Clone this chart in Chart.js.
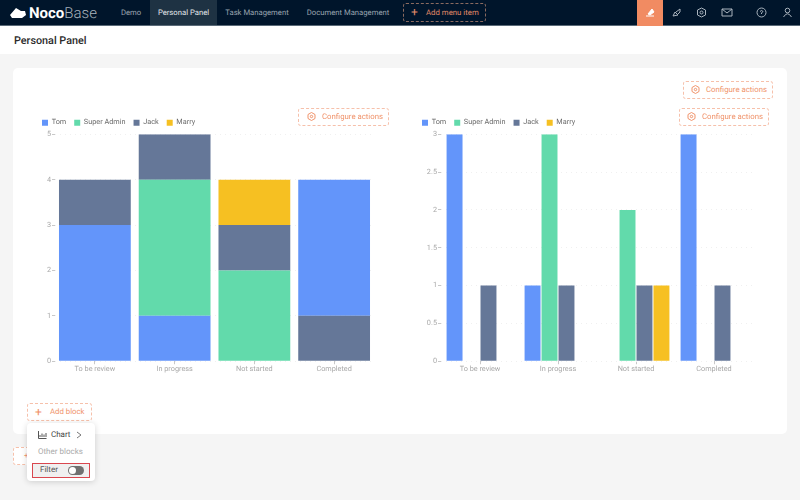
<!DOCTYPE html>
<html>
<head>
<meta charset="utf-8">
<title>Personal Panel</title>
<script src="https://cdn.jsdelivr.net/npm/chart.js@4"></script>
<style>
  * { box-sizing: border-box; }
  html, body { margin: 0; width: 800px; height: 500px; overflow: hidden; background: #f5f5f5; font-family: Roboto, sans-serif; text-rendering: geometricPrecision; }
  .abs { position: absolute; white-space: nowrap; }
  #header { left: 0; top: 0; width: 800px; height: 26px; background: #00152b; border-bottom: 1px solid #5a6a78; }
  .menu { top: 0; height: 25px; line-height: 26px; font-size: 7.7px; color: #9aa5b0; text-align: center; }
  #active { left: 150px; width: 67px; background: #1e3243; color: #e4e8ec; }
  #logo { left: 29px; top: 2px; font-size: 15px; line-height: 22px; color: #fff; font-weight: 700; }
  #logo span { font-weight: 300; color: #a9b3bd; }
  #tile { left: 637px; top: 0; width: 26px; height: 26px; background: #f18b62; }
  #titlebar { left: 0; top: 26px; width: 800px; height: 28px; background: #fff; }
  #title { left: 14px; top: 32px; font-size: 10.8px; line-height: 17px; font-weight: 500; color: #2b2b2b; }
  #card { left: 13px; top: 68px; width: 774px; height: 366px; background: #fff; border-radius: 5px; }
  .btn { height: 18px; line-height: 16px; border: 1px dashed #f6c0aa; border-radius: 3px; color: #f0936b; font-size: 7.8px; background: #fff; text-align: left; }
  #popup { left: 27px; top: 423px; width: 68px; height: 58px; background: #fff; border-radius: 4px; box-shadow: 0 1px 6px rgba(0,0,0,.16); }
  .pop { font-size: 8px; line-height: 12px; }
  #filter { left: 32px; top: 463px; width: 58px; height: 15px; background: #f0f0f0; border: 1px solid #d9474f; }
  #switch { left: 68px; top: 466px; width: 16px; height: 9px; border-radius: 5px; background: #707070; }
  #knob { left: 69px; top: 467px; width: 7px; height: 7px; border-radius: 50%; background: #fff; }
  canvas { position: absolute; }
  svg { position: absolute; fill: none; }
</style>
</head>
<body>
<div class="abs" id="header"></div>
<svg style="left:9px;top:6px" width="18" height="13" viewBox="0 0 18 13"><path d="M1 9 L7 2 L12 5 L16 5 L17 9 L13 12 L3 12 Z" fill="#fff"/></svg>
<div class="abs" id="logo">Noco<span>Base</span></div>
<div class="abs menu" style="left:117px;width:28px">Demo</div>
<div class="abs menu" id="active">Personal Panel</div>
<div class="abs menu" style="left:222px;width:70px">Task Management</div>
<div class="abs menu" style="left:303px;width:90px">Document Management</div>
<div class="abs" style="left:403px;top:3px;width:83px;height:19px;border:1px dashed #8a6a60;border-radius:3px;color:#e08a68;font-size:7.8px;line-height:17px;padding-left:22px">Add menu item</div>
<div class="abs" style="left:411px;top:5px;color:#e08a68;font-size:12px;line-height:15px">+</div>
<div class="abs" id="tile"></div>
<svg style="left:645px;top:7px" width="11" height="11" viewBox="0 0 11 11"><path d="M1 9 L9 9 M3 7 L7 2 L9 5 L5 8 Z" stroke="#fff" fill="#fff"/></svg>
<svg style="left:671px;top:7px" width="11" height="11" viewBox="0 0 11 11"><path d="M2 9 L4 5 L7 8 Z M5 5 L9 2 L9 5 L7 7" stroke="#a9b3bd"/></svg>
<svg style="left:696px;top:7px" width="11" height="11" viewBox="0 0 11 11"><path d="M5.5 1 L9.5 3 L9.5 8 L5.5 10 L1.5 8 L1.5 3 Z" stroke="#a9b3bd"/><circle cx="5.5" cy="5.5" r="1.5" stroke="#a9b3bd"/></svg>
<svg style="left:721px;top:7px" width="12" height="11" viewBox="0 0 12 11"><path d="M1 2 H11 V9 H1 Z M1 2 L6 6 L11 2" stroke="#a9b3bd"/></svg>
<svg style="left:756px;top:7px" width="11" height="11" viewBox="0 0 11 11"><circle cx="5.5" cy="5.5" r="4.5" stroke="#a9b3bd"/><path d="M4 4.5 Q5.5 2.5 7 4.5 L5.5 6 V7" stroke="#a9b3bd"/></svg>
<svg style="left:782px;top:7px" width="11" height="11" viewBox="0 0 11 11"><circle cx="5.5" cy="3.5" r="2.3" stroke="#a9b3bd"/><path d="M1.5 10 Q5.5 3.5 9.5 10" stroke="#a9b3bd"/></svg>

<div class="abs" id="titlebar"></div>
<div class="abs" id="title">Personal Panel</div>
<div class="abs" id="card"></div>

<canvas id="stacked" width="350" height="266" style="left:34px;top:109px"></canvas>
<canvas id="grouped" width="350" height="266" style="left:414px;top:109px"></canvas>

<div class="abs btn" style="left:298px;top:108px;width:91px;padding-left:23px">Configure actions</div>
<div class="abs btn" style="left:683px;top:81px;width:90px;padding-left:22px">Configure actions</div>
<div class="abs btn" style="left:679px;top:108px;width:90px;padding-left:22px">Configure actions</div>
<svg style="left:307px;top:112px" width="9" height="9" viewBox="0 0 9 9"><path d="M4.5 .5 L8 2.5 V6.5 L4.5 8.5 L1 6.5 V2.5 Z" stroke="#f0936b"/><circle cx="4.5" cy="4.5" r="1.2" stroke="#f0936b"/></svg>
<svg style="left:691px;top:85px" width="9" height="9" viewBox="0 0 9 9"><path d="M4.5 .5 L8 2.5 V6.5 L4.5 8.5 L1 6.5 V2.5 Z" stroke="#f0936b"/><circle cx="4.5" cy="4.5" r="1.2" stroke="#f0936b"/></svg>
<svg style="left:687px;top:112px" width="9" height="9" viewBox="0 0 9 9"><path d="M4.5 .5 L8 2.5 V6.5 L4.5 8.5 L1 6.5 V2.5 Z" stroke="#f0936b"/><circle cx="4.5" cy="4.5" r="1.2" stroke="#f0936b"/></svg>

<div class="abs btn" style="left:27px;top:403px;width:65px;padding-left:22px">Add block</div>
<div class="abs" style="left:35px;top:405px;color:#f0936b;font-size:12px;line-height:14px">+</div>
<div class="abs btn" style="left:13px;top:447px;width:40px;padding-left:10px;color:#f0936b">+</div>

<div class="abs" id="popup"></div>
<svg style="left:38px;top:430px" width="9" height="9" viewBox="0 0 9 9"><path d="M.5 1 V8.5 H8.5 M2 7 V5 M4 7 V3.5 M6 7 V4.5 M8 7 V3" stroke="#555"/></svg>
<div class="abs pop" style="left:51px;top:429px;color:#444">Chart</div>
<svg style="left:76px;top:431px" width="6" height="8" viewBox="0 0 6 8"><path d="M1 1 L5 4 L1 7" stroke="#777"/></svg>
<div class="abs pop" style="left:38px;top:446px;color:#aaa">Other blocks</div>
<div class="abs" id="filter"></div>
<div class="abs pop" style="left:40px;top:464px;color:#555">Filter</div>
<div class="abs" id="switch"></div>
<div class="abs" id="knob"></div>

<script>
// Colours of the users
const BLUE = '#6395fa', GREEN = '#62daab', SLATE = '#657798', YELLOW = '#f6c022';
const labels = ['To be review', 'In progress', 'Not started', 'Completed'];
const tom = [3, 1, null, 3];
const superAdmin = [null, 3, 2, null];
const jack = [1, 1, 1, 1];
const marry = [null, null, 1, null];
const FONT = { family: 'Roboto, sans-serif', size: 7.3 };

// Small text comes out too wide without this, and the legend sits a bit lower than chart.js puts it
Chart.register({
    id: 'panelTweaks',
    beforeLayout: chart => { chart.ctx.textRendering = 'geometricPrecision'; },
    beforeDraw: chart => { chart.ctx.textRendering = 'geometricPrecision'; },
    afterLayout: chart => { chart.legend.top += 2; chart.legend.bottom += 2; }
});

// Shared options for both panels
function options(yMax, step, stacked, yWidth, rightPad) {
    return {
        responsive: false,
        animation: false,
        layout: { padding: { top: 0, right: rightPad, bottom: 0, left: 0 } },
        plugins: {
            tooltip: { enabled: false },
            legend: {
                align: 'start',
                labels: {
                    boxWidth: 6,
                    boxHeight: 6,
                    padding: 8,
                    color: '#6a6a6a',
                    font: FONT,
                    filter: item => !item.text.startsWith('_')
                }
            }
        },
        scales: {
            x: {
                stacked: stacked,
                grid: { offset: false, drawOnChartArea: false, tickLength: 3, tickColor: '#c8c8c8' },
                border: { display: false },
                ticks: { color: '#a8a8a8', font: FONT, padding: 1, maxRotation: 0 }
            },
            y: {
                stacked: stacked,
                min: 0,
                max: yMax,
                afterFit: scale => { scale.width = yWidth; },
                grid: { color: '#f0f0f0', tickColor: '#c8c8c8', tickLength: 3, tickBorderDash: [], },
                border: { display: false, dash: [1, 4] },
                ticks: { stepSize: step, color: '#a8a8a8', font: FONT, padding: 1, callback: v => String(v) }
            }
        }
    };
}

// Completed has Jack under Tom, so that part of Jack goes in first as its own hidden-name set
new Chart(document.getElementById('stacked'), {
    type: 'bar',
    data: {
        labels: labels,
        datasets: [
            { label: '_Jack completed', data: [null, null, null, jack[3]], backgroundColor: SLATE },
            { label: 'Tom', data: tom, backgroundColor: BLUE },
            { label: 'Super Admin', data: superAdmin, backgroundColor: GREEN },
            { label: 'Jack', data: [jack[0], jack[1], jack[2], null], backgroundColor: SLATE },
            { label: 'Marry', data: marry, backgroundColor: YELLOW }
        ].map(d => ({ ...d, categoryPercentage: 0.9, barPercentage: 1 }))
    },
    options: options(5, 1, true, 21, 10)
});

new Chart(document.getElementById('grouped'), {
    type: 'bar',
    data: {
        labels: labels,
        datasets: [
            { label: 'Tom', data: tom, backgroundColor: BLUE },
            { label: 'Super Admin', data: superAdmin, backgroundColor: GREEN },
            { label: 'Jack', data: jack, backgroundColor: SLATE },
            { label: 'Marry', data: marry, backgroundColor: YELLOW }
        ].map(d => ({ ...d, categoryPercentage: 0.87, barPercentage: 0.94 }))
    },
    options: options(3, 0.5, false, 27, 11)
});
</script>
</body>
</html>
